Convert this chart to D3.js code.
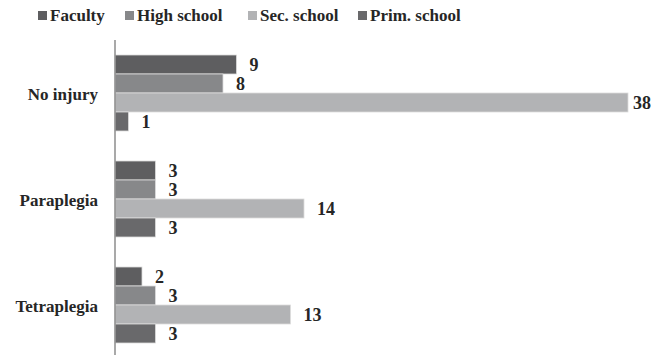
<!DOCTYPE html>
<html>
<head>
<meta charset="utf-8">
<script src="https://cdn.jsdelivr.net/npm/d3@7"></script>
<style>
	body { margin: 0; background: #fff; }
	text { font-family: "Liberation Serif", serif; font-weight: bold; fill: #262626; }
</style>
</head>
<body>
<script>

// injury categories (top to bottom) and education series
var categories = ["No injury", "Paraplegia", "Tetraplegia"];
var series = ["Faculty", "High school", "Sec. school", "Prim. school"];

// values per series, in category order
var faculty = [9, 3, 2];
var highSchool = [8, 3, 3];
var secSchool = [38, 14, 13];
var primSchool = [1, 3, 3];

var values = [faculty, highSchool, secSchool, primSchool];
var colors = ["#5e5e60", "#87888a", "#b2b3b5", "#69696b"];

var W = 651, H = 355;
var svg = d3.select("body").append("svg")
	.attr("width", W)
	.attr("height", H);

// scales
var x = d3.scaleLinear().domain([0, 38]).range([115, 628]);
var y0 = d3.scaleBand().domain(categories).range([40, 358])
	.paddingInner(0.283).paddingOuter(0.1415);
var y1 = d3.scaleBand().domain(series).range([0, y0.bandwidth()]);

// flat rows for drawing
var rows = [];
categories.forEach(function (cat, ic) {
	series.forEach(function (s, is) {
		rows.push({ cat: cat, series: s, i: is, value: values[is][ic] });
	});
});

// bars
svg.append("g").selectAll("rect")
	.data(rows)
	.enter().append("rect")
	.attr("x", x(0))
	.attr("y", function (d) { return y0(d.cat) + y1(d.series); })
	.attr("width", function (d) { return x(d.value) - x(0); })
	.attr("height", y1.bandwidth())
	.attr("fill", function (d) { return colors[d.i]; })
	.attr("stroke", "#dcdcdc")
	.attr("stroke-width", 0.8);

// value labels, kept inside the picture
svg.append("g").selectAll("text")
	.data(rows)
	.enter().append("text")
	.attr("y", function (d) { return y0(d.cat) + y1(d.series) + y1.bandwidth() / 2; })
	.attr("dy", "0.38em")
	.style("font-size", "18px")
	.text(function (d) { return d.value; })
	.attr("x", function (d) {
		var w = this.getComputedTextLength();
		return Math.min(x(d.value) + 13, W - w);
	});

// vertical axis line
svg.append("line")
	.attr("x1", x(0)).attr("x2", x(0))
	.attr("y1", 40).attr("y2", H)
	.attr("stroke", "#8c8c8c")
	.attr("stroke-width", 1.5);

// category labels
svg.append("g").selectAll("text")
	.data(categories)
	.enter().append("text")
	.attr("x", 98)
	.attr("y", function (d) { return y0(d) + y0.bandwidth() / 2; })
	.attr("dy", "0.42em")
	.attr("text-anchor", "end")
	.style("font-size", "17px")
	.text(function (d) { return d; });

// legend
var legendX = [38, 125, 248, 358];
var legend = svg.append("g").selectAll("g")
	.data(series)
	.enter().append("g")
	.attr("transform", function (d, i) { return "translate(" + legendX[i] + ",11)"; });
legend.append("rect")
	.attr("width", 9).attr("height", 9)
	.attr("fill", function (d, i) { return colors[i]; });
legend.append("text")
	.attr("x", 12)
	.attr("y", 10)
	.style("font-size", "17px")
	.text(function (d) { return d; });

</script>
</body>
</html>
